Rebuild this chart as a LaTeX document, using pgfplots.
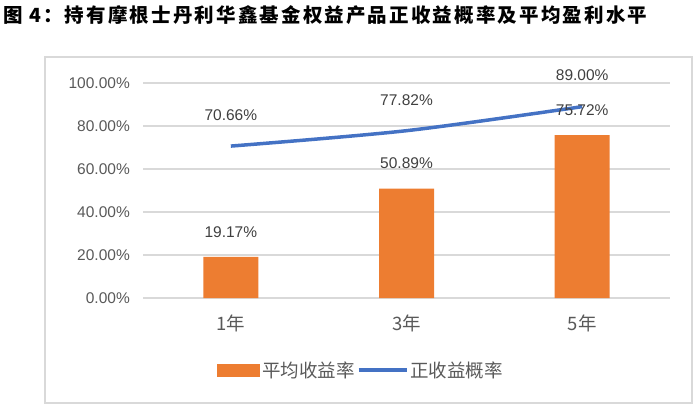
\documentclass[border=0pt]{standalone}
\usepackage{pgfplots}
\pgfplotsset{compat=1.18}
\usepackage{pgfplotstable}
\usepackage{fontspec}
\setmainfont{Liberation Sans}
\newfontfamily\cjk{Noto Sans CJK SC}

\definecolor{barorange}{HTML}{ED7D31}
\definecolor{lineblue}{HTML}{4472C4}
\definecolor{gridgray}{HTML}{D9D9D9}
\definecolor{labelgray}{HTML}{595959}
\definecolor{datagray}{HTML}{404040}

% holding period, average return, probability of positive return
\pgfplotstableread{
x avg pos
0 19.17 70.66
1 50.89 77.82
2 75.72 89.00
}\datatable

\begin{document}
\begin{tikzpicture}[x=1pt,y=1pt]
  \useasboundingbox (0,0) rectangle (700,407);
  % title
  \node[anchor=west, inner sep=0] at (3,392)
    {\cjk\bfseries\fontsize{19.5}{24}\selectfont\addfontfeature{LetterSpace=11}图 4：持有摩根士丹利华鑫基金权益产品正收益概率及平均盈利水平};
  % chart frame
  \draw[gridgray, line width=1.5pt] (45,350) rectangle (692,4);

  \begin{axis}[
    at={(143pt,109pt)}, anchor=south west,
    scale only axis, width=527pt, height=215pt,
    xmin=-0.5, xmax=2.5, ymin=0, ymax=100,
    clip=false,
    /pgf/number format/assume math mode=true,
    xtick={0,1,2}, xticklabels={1年,3年,5年},
    ytick={0,20,40,60,80,100},
    yticklabel={\pgfmathprintnumber[fixed,fixed zerofill,precision=2]{\tick}\%},
    ymajorgrids,
    grid style={gridgray, line width=1.2pt},
    axis line style={draw=none},
    major tick length=0pt,
    yticklabel style={anchor=east, inner sep=0pt, xshift=-13pt,
      font=\fontsize{15.5}{19}\selectfont, text=labelgray},
    xticklabel style={anchor=center, inner sep=0pt, yshift=-25pt,
      font=\cjk\fontsize{18.5}{22}\selectfont, text=labelgray},
    legend style={at={(0.414,-0.335)}, anchor=center, draw=none,
      fill=none, inner sep=0pt,
      font=\cjk\fontsize{18.5}{22}\selectfont, text=labelgray,
      nodes={inner sep=2pt}},
    legend columns=2,
    /tikz/every even column/.append style={column sep=0pt},
  ]
    \addplot[ybar, bar width=55pt, fill=barorange, draw=none,
      nodes near coords={\pgfmathprintnumber[fixed,fixed zerofill,precision=2]{\pgfplotspointmeta}\%},
      every node near coord/.append style={anchor=center, yshift=25pt,
        font=\fontsize{15.5}{19}\selectfont, text=datagray},
      legend image code/.code={\fill[barorange] (0pt,-6.5pt) rectangle (43pt,6.5pt);}]
      table[x=x, y=avg]{\datatable};
    \addlegendentry{平均收益率}

    \addplot[lineblue, line width=3.5pt, smooth, mark=none,
      nodes near coords={\pgfmathprintnumber[fixed,fixed zerofill,precision=2]{\pgfplotspointmeta}\%},
      every node near coord/.append style={anchor=center, yshift=31pt,
        font=\fontsize{15.5}{19}\selectfont, text=datagray},
      legend image code/.code={\draw[lineblue, line width=3.5pt] (0pt,0pt) -- (48pt,0pt);}]
      table[x=x, y=pos]{\datatable};
    \addlegendentry{正收益概率}
  \end{axis}
\end{tikzpicture}
\end{document}
